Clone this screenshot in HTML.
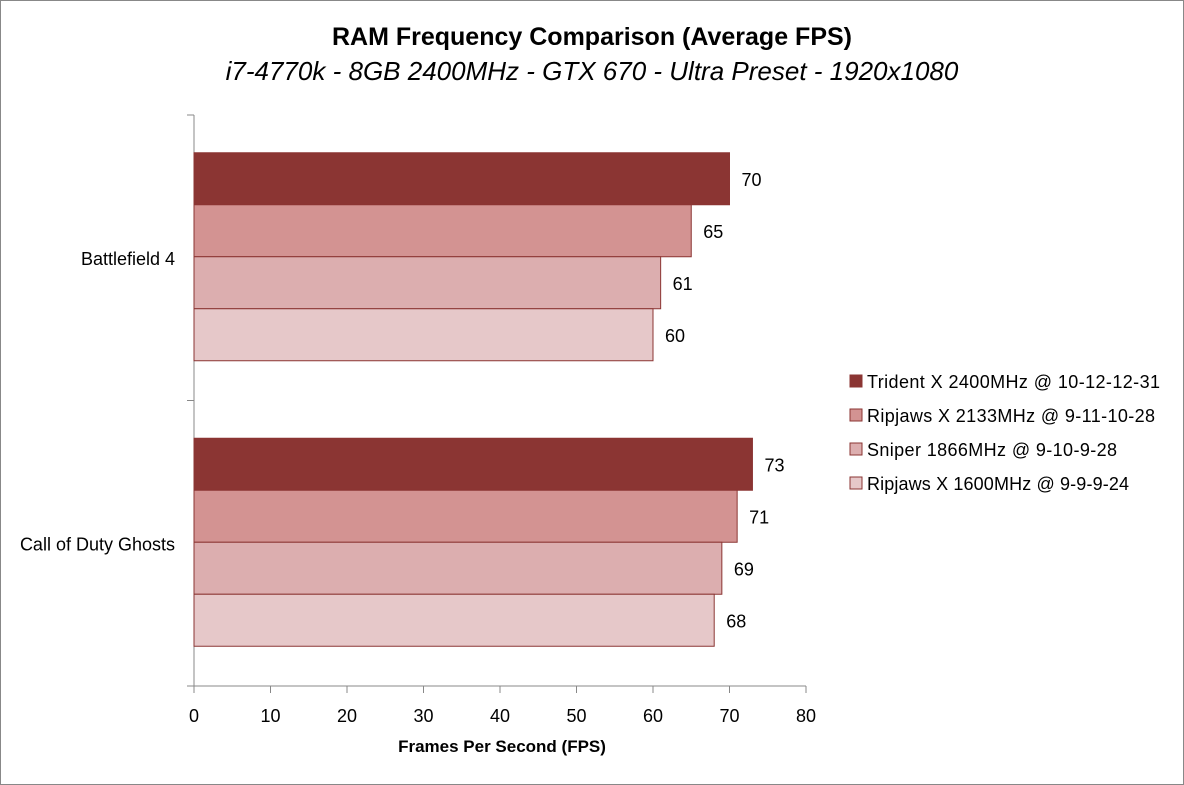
<!DOCTYPE html>
<html><head><meta charset="utf-8"><style>
body{margin:0;background:#fff}
svg{display:block;font-family:"Liberation Sans",Calibri,sans-serif}
</style></head><body>
<svg id="chart" width="1184" height="785">
<rect x="0.5" y="0.5" width="1183" height="784" fill="#fff" stroke="#888"/>
<text x="592" y="45" text-anchor="middle" font-size="25" font-weight="bold" fill="#000">RAM Frequency Comparison  (Average FPS)</text>
<text x="592" y="80" text-anchor="middle" font-size="26" font-style="italic" fill="#000">i7-4770k - 8GB 2400MHz - GTX 670 - Ultra Preset - 1920x1080</text>
<text x="502" y="752" text-anchor="middle" font-size="17" font-weight="bold" fill="#000">Frames Per Second (FPS)</text>
<g id="plot"></g>
<g id="legend"></g>
</svg>
<script>
const categories=["Battlefield 4","Call of Duty Ghosts"];
const seriesNames=["Trident X 2400MHz @ 10-12-12-31","Ripjaws X 2133MHz @ 9-11-10-28","Sniper 1866MHz @ 9-10-9-28","Ripjaws X 1600MHz @ 9-9-9-24"];
const tridentX=[70,73];
const ripjaws2133=[65,71];
const sniper1866=[61,69];
const ripjaws1600=[60,68];
const xTicks=[0,10,20,30,40,50,60,70,80];
const colors=["#8B3533","#D39392","#DCAEAF","#E6C8C9"];
const series=[tridentX,ripjaws2133,sniper1866,ripjaws1600];
const NS="http://www.w3.org/2000/svg";
const plot=document.getElementById('plot'),legend=document.getElementById('legend');
const x0=194,x1=806,yTop=115,yBot=686;
const xs=v=>x0+(v-xTicks[0])/(xTicks[xTicks.length-1]-xTicks[0])*(x1-x0);
const bandH=(yBot-yTop)/categories.length;
function mk(tag,attrs,parent){const e=document.createElementNS(NS,tag);for(const k in attrs)e.setAttribute(k,attrs[k]);parent.appendChild(e);return e;}
let a=mk('line',{x1:x0,y1:yTop,x2:x0,y2:yBot,stroke:'#888'},plot);


a=mk('line',{x1:x0,y1:yBot,x2:x1,y2:yBot,stroke:'#888'},plot);


for(let i=0;i<=categories.length;i++){
  const y=yTop+i*bandH;
  const t=mk('line',{x1:x0-7,y1:y,x2:x0,y2:y,stroke:'#888'},plot);
  
  
}
xTicks.forEach(v=>{
  const x=xs(v);
  const t=mk('line',{x1:x,y1:yBot,x2:x,y2:yBot+7,stroke:'#888'},plot);
  
  
  const l=mk('text',{x:x,y:yBot+36,'text-anchor':'middle','font-size':18,fill:'#000'},plot);
  l.textContent=v;
  
  
});
const barH=52;
categories.forEach((c,ci)=>{
  const bandTop=yTop+ci*bandH;
  const l=mk('text',{x:175,y:bandTop+bandH/2+7,'text-anchor':'end','font-size':18,fill:'#000'},plot);
  l.textContent=c;
  
  
  const start=bandTop+(bandH-barH*series.length)/2-1;
  series.forEach((s,si)=>{
    const y=start+si*barH;
    const r=mk('rect',{x:x0,y:y,width:xs(s[ci])-x0,height:barH,fill:colors[si],stroke:'#8B3533','stroke-width':1},plot);
    
    
    const t=mk('text',{x:xs(s[ci])+12,y:y+barH/2+7,'font-size':18,fill:'#000'},plot);
    t.textContent=s[ci];
    
    
  });
});
seriesNames.forEach((n,i)=>{
  const y=381+i*34;
  const r=mk('rect',{x:850,y:y-6,width:12,height:12,fill:colors[i],stroke:'#8B3533'},legend);
  
  
  const t=mk('text',{x:867,y:y+7,'font-size':18,'textLength':(i==0?293:i==1?288:i==2?250:262),fill:'#000'},legend);
  t.textContent=n;
  
  
});
</script>
</body></html>
